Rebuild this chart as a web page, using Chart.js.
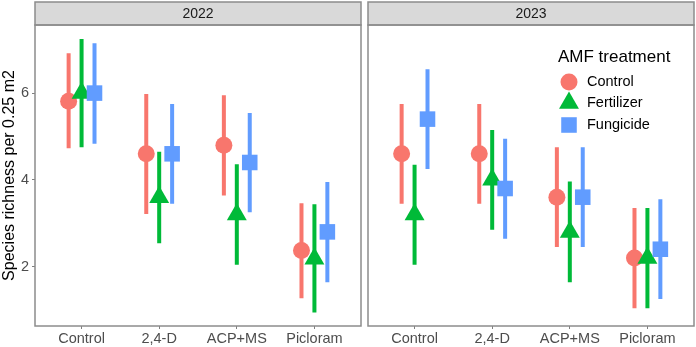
<!DOCTYPE html>
<html>
<head>
<meta charset="utf-8">
<script src="https://cdn.jsdelivr.net/npm/chart.js@4.4.0/dist/chart.umd.min.js"></script>
<style>
  body { margin: 0; background: #ffffff; }
  #wrap { position: relative; width: 696px; height: 347px; }
  canvas { position: absolute; top: 0; }
  #left { left: 0; }
  #right { left: 362px; }
</style>
</head>
<body>
<div id="wrap">
  <canvas id="left" width="362" height="347"></canvas>
  <canvas id="right" width="334" height="347"></canvas>
</div>
<script>
const categories = ["Control", "2,4-D", "ACP+MS", "Picloram"];
const yTicks = [2, 4, 6];

// 2022 panel: mean and interval per treatment
const control2022 = [5.81, 4.60, 4.80, 2.37];
const control2022Low = [4.73, 3.21, 3.64, 1.27];
const control2022High = [6.92, 5.98, 5.95, 3.46];
const fertilizer2022 = [6.00, 3.60, 3.20, 2.18];
const fertilizer2022Low = [4.75, 2.54, 2.04, 0.94];
const fertilizer2022High = [7.25, 4.65, 4.36, 3.44];
const fungicide2022 = [6.00, 4.60, 4.40, 2.80];
const fungicide2022Low = [4.83, 3.45, 3.25, 1.64];
const fungicide2022High = [7.15, 5.75, 5.54, 3.95];

// 2023 panel
const control2023 = [4.60, 4.60, 3.60, 2.20];
const control2023Low = [3.45, 3.45, 2.45, 1.04];
const control2023High = [5.75, 5.75, 4.75, 3.35];
const fertilizer2023 = [3.20, 4.00, 2.80, 2.20];
const fertilizer2023Low = [2.04, 2.85, 1.64, 1.04];
const fertilizer2023High = [4.35, 5.15, 3.96, 3.35];
const fungicide2023 = [5.40, 3.80, 3.60, 2.40];
const fungicide2023Low = [4.25, 2.64, 2.45, 1.25];
const fungicide2023High = [6.55, 4.95, 4.75, 3.55];

const FONT = "'Liberation Sans', Arial, sans-serif";
const dodge = 1 / 6;
const treatments = [
    { name: "Control", color: "#F8766D", style: "circle", radius: 8.5 },
    { name: "Fertilizer", color: "#00BA38", style: "triangle", radius: 11.5 },
    { name: "Fungicide", color: "#619CFF", style: "rect", radius: 11 }
];

function buildDatasets(means, lows, highs) {
    const sets = [];
    treatments.forEach((t, k) => {
        const off = (k - 1) * dodge;
        const bars = [];
        means[k].forEach((m, i) => {
            bars.push({ x: i + 1 + off, y: lows[k][i] });
            bars.push({ x: i + 1 + off, y: highs[k][i] });
            bars.push({ x: i + 1 + off, y: null });
        });
        sets.push({
            type: "line",
            label: t.name + " range",
            data: bars,
            borderColor: t.color,
            borderWidth: 4,
            borderCapStyle: "butt",
            pointRadius: 0,
            spanGaps: false,
            order: 10 - 2 * k
        });
        sets.push({
            type: "scatter",
            label: t.name,
            data: means[k].map((m, i) => ({ x: i + 1 + off, y: m })),
            pointStyle: t.style,
            pointRadius: t.radius,
            pointHoverRadius: t.radius,
            backgroundColor: t.color,
            borderColor: t.color,
            borderWidth: 0,
            order: 9 - 2 * k
        });
    });
    return sets;
}

const panelPlugin = {
    id: "panel",
    beforeDraw(chart, args, opts) {
        const a = chart.chartArea;
        const ctx = chart.ctx;
        ctx.save();
        ctx.fillStyle = "#D9D9D9";
        ctx.fillRect(a.left, 2, a.right - a.left, a.top - 2);
        ctx.strokeStyle = "#8C8C8C";
        ctx.lineWidth = 1.5;
        ctx.strokeRect(a.left, 2, a.right - a.left, a.top - 2);
        ctx.fillStyle = "#1A1A1A";
        ctx.font = "14px " + FONT;
        ctx.textAlign = "center";
        ctx.textBaseline = "middle";
        ctx.fillText(opts.label, (a.left + a.right) / 2, (a.top + 2) / 2 + 1);
        ctx.restore();
    },
    afterDraw(chart) {
        const a = chart.chartArea;
        const ctx = chart.ctx;
        ctx.save();
        ctx.strokeStyle = "#8C8C8C";
        ctx.lineWidth = 1.5;
        ctx.strokeRect(a.left, a.top, a.right - a.left, a.bottom - a.top);
        ctx.restore();
    }
};

const legendPlugin = {
    id: "amfLegend",
    afterDraw(chart, args, opts) {
        if (!opts.show) return;
        const ctx = chart.ctx;
        ctx.save();
        ctx.fillStyle = "#000000";
        ctx.font = "17px " + FONT;
        ctx.textAlign = "left";
        ctx.textBaseline = "middle";
        ctx.fillText("AMF treatment", 196, 57);
        const rows = [82, 103, 125];
        treatments.forEach((t, k) => {
            ctx.fillStyle = t.color;
            Chart.helpers.drawPoint(ctx, { pointStyle: t.style, radius: t.radius, rotation: 0, borderWidth: 0 }, 207, rows[k]);
            ctx.fillStyle = "#000000";
            ctx.font = "14.5px " + FONT;
            ctx.fillText(t.name, 225, rows[k]);
        });
        ctx.restore();
    }
};

function makeChart(id, label, showY, padding, datasets) {
    new Chart(document.getElementById(id), {
        type: "scatter",
        data: { datasets: datasets },
        options: {
            responsive: false,
            animation: false,
            devicePixelRatio: 1,
            layout: { padding: padding, autoPadding: false },
            plugins: {
                legend: { display: false },
                tooltip: { enabled: false },
                panel: { label: label },
                amfLegend: { show: !showY }
            },
            scales: {
                x: {
                    type: "linear",
                    min: 0.4,
                    max: 4.6,
                    afterBuildTicks: s => { s.ticks = categories.map((c, i) => ({ value: i + 1 })); },
                    afterFit: s => {
                        s.height = 21;
                        s.paddingLeft = 0;
                        s.paddingRight = 0;
                    },
                    ticks: {
                        callback: (v, i) => categories[i],
                        color: "#4D4D4D",
                        font: { family: FONT, size: 14.5 },
                        padding: 1,
                        maxRotation: 0,
                        autoSkip: false
                    },
                    grid: { drawOnChartArea: false, drawTicks: true, tickLength: 3, color: "#7F7F7F" },
                    border: { display: false }
                },
                y: {
                    display: showY,
                    min: 0.63,
                    max: 7.57,
                    afterBuildTicks: s => { s.ticks = yTicks.map(v => ({ value: v })); },
                    afterFit: s => {
                        if (showY) s.width = 35;
                        s.paddingTop = 0;
                        s.paddingBottom = 0;
                    },
                    ticks: { color: "#4D4D4D", font: { family: FONT, size: 14.5 }, padding: 3 },
                    grid: { drawOnChartArea: false, drawTicks: true, tickLength: 3, color: "#7F7F7F" },
                    border: { display: false },
                    title: {
                        display: true,
                        text: "Species richness per 0.25 m2",
                        color: "#000000",
                        font: { family: FONT, size: 16 },
                        padding: 0
                    }
                }
            }
        },
        plugins: [panelPlugin, legendPlugin]
    });
}

document.addEventListener("DOMContentLoaded", function () {
    makeChart("left", "2022", true, { top: 25, right: 1, left: 0, bottom: 0 },
        buildDatasets(
            [control2022, fertilizer2022, fungicide2022],
            [control2022Low, fertilizer2022Low, fungicide2022Low],
            [control2022High, fertilizer2022High, fungicide2022High]
        ));
    makeChart("right", "2023", false, { top: 25, right: 2, left: 6, bottom: 0 },
        buildDatasets(
            [control2023, fertilizer2023, fungicide2023],
            [control2023Low, fertilizer2023Low, fungicide2023Low],
            [control2023High, fertilizer2023High, fungicide2023High]
        ));
});
</script>
</body>
</html>
